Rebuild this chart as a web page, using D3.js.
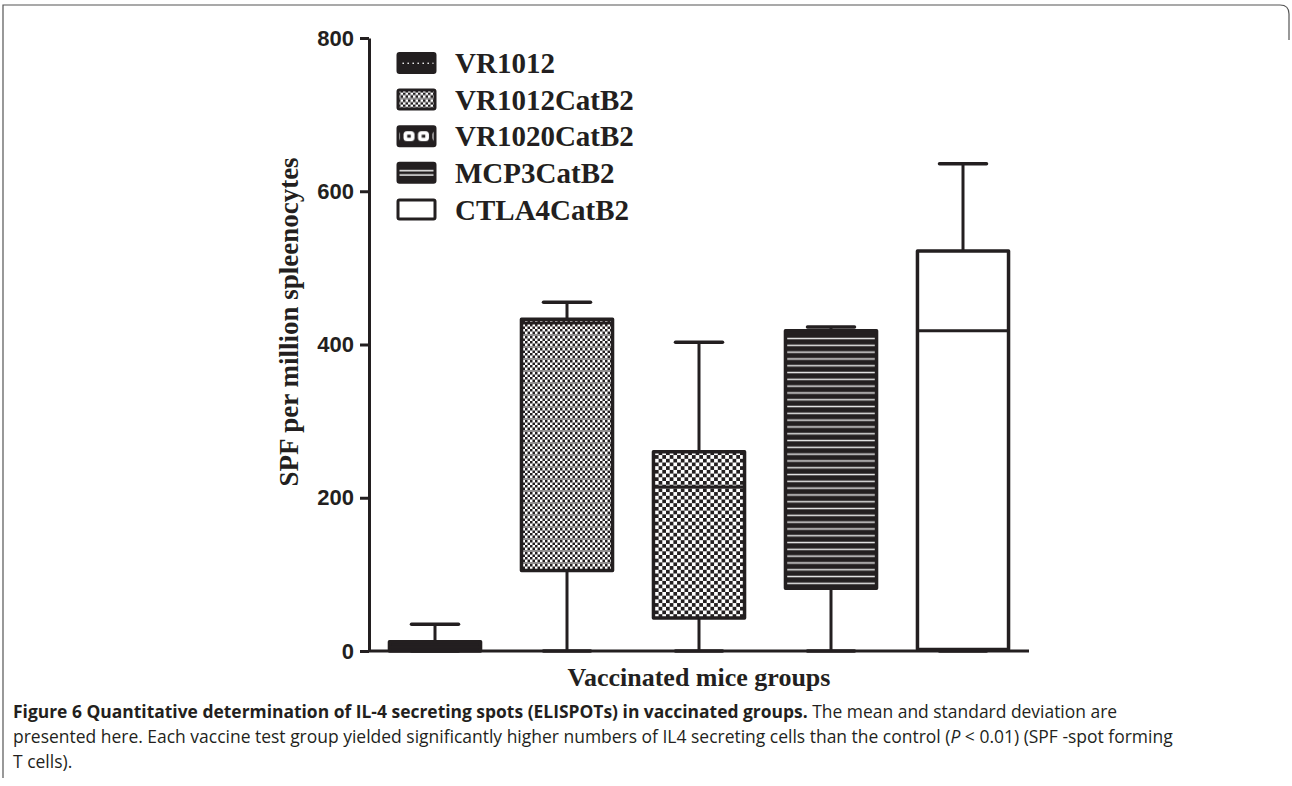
<!DOCTYPE html>
<html>
<head>
<meta charset="utf-8">
<script src="https://cdn.jsdelivr.net/npm/d3@7"></script>
<style>
  body { margin: 0; background: #fff; }
  svg { display: block; }
</style>
</head>
<body>
<div id="chart"></div>
<script>
const width = 1292, height = 786;
const margin = { top: 38, right: 263, bottom: 135, left: 369 };

// box plot values
const groups = ["VR1012", "VR1012CatB2", "VR1020CatB2", "MCP3CatB2", "CTLA4CatB2"];
const minVals = [0, 0, 0, 0, 0];
const q1Vals = [0, 105, 43, 82, 2];
const medVals = [5, 428, 214, 415, 418];
const q3Vals = [12, 433, 260, 418, 522];
const maxVals = [35, 455, 403, 423, 636];
const yTicks = [0, 200, 400, 600, 800];
const patternIds = ["pVR1012", "pVR1012CatB2", "pVR1020CatB2", "pMCP3", "pCTLA4"];

const ink = "#231f20";

const svg = d3.select("#chart").append("svg").attr("width", width).attr("height", height);
const defs = svg.append("defs");

// patterns
let p = defs.append("pattern").attr("id", "pVR1012").attr("patternUnits", "userSpaceOnUse").attr("width", 6).attr("height", 6);
p.append("rect").attr("width", 6).attr("height", 6).attr("fill", ink);

p = defs.append("pattern").attr("id", "pVR1012CatB2").attr("patternUnits", "userSpaceOnUse").attr("width", 5).attr("height", 12);
p.append("rect").attr("width", 5).attr("height", 12).attr("fill", "#fff");
[[0, 0], [2.5, 2.5], [0, 5], [2.5, 7.5]].forEach(([x, y]) => {
    p.append("rect").attr("x", x).attr("y", y).attr("width", 2.5).attr("height", 2.5).attr("fill", ink);
});
p.append("rect").attr("x", 0).attr("y", 10.5).attr("width", 5).attr("height", 1).attr("fill", ink);

p = defs.append("pattern").attr("id", "pVR1020CatB2").attr("patternUnits", "userSpaceOnUse").attr("width", 7.4).attr("height", 7.4);
p.append("rect").attr("width", 7.4).attr("height", 7.4).attr("fill", "#fff");
p.append("rect").attr("x", 0).attr("y", 0).attr("width", 3.7).attr("height", 3.7).attr("fill", ink);
p.append("rect").attr("x", 3.7).attr("y", 3.7).attr("width", 3.7).attr("height", 3.7).attr("fill", ink);

p = defs.append("pattern").attr("id", "pMCP3").attr("patternUnits", "userSpaceOnUse").attr("width", 10).attr("height", 6.8);
p.append("rect").attr("width", 10).attr("height", 6.8).attr("fill", ink);
p.append("rect").attr("x", 0).attr("y", 4.6).attr("width", 10).attr("height", 1.5).attr("fill", "#e6e6e6");

// legend swatch patterns (tile centred on the row)
p = defs.append("pattern").attr("id", "lVR1012").attr("patternUnits", "userSpaceOnUse")
    .attr("x", 3).attr("y", -15).attr("width", 5).attr("height", 30);
p.append("rect").attr("width", 5).attr("height", 30).attr("fill", ink);
p.append("rect").attr("x", 1.5).attr("y", 14.6).attr("width", 1.4).attr("height", 1.4).attr("fill", "#fff");

p = defs.append("pattern").attr("id", "lVR1020CatB2").attr("patternUnits", "userSpaceOnUse")
    .attr("x", 4).attr("y", -15).attr("width", 14.5).attr("height", 30);
p.append("rect").attr("width", 14.5).attr("height", 30).attr("fill", ink);
p.append("rect").attr("x", 1.5).attr("y", 10).attr("width", 11).attr("height", 10).attr("rx", 3.5).attr("fill", "#fff");
p.append("rect").attr("x", 5.2).attr("y", 13.5).attr("width", 3.6).attr("height", 3).attr("fill", ink);

p = defs.append("pattern").attr("id", "lMCP3").attr("patternUnits", "userSpaceOnUse")
    .attr("y", -15).attr("width", 10).attr("height", 30);
p.append("rect").attr("width", 10).attr("height", 30).attr("fill", ink);
p.append("rect").attr("x", 0).attr("y", 12).attr("width", 10).attr("height", 1.6).attr("fill", "#e6e6e6");
p.append("rect").attr("x", 0).attr("y", 16.4).attr("width", 10).attr("height", 1.6).attr("fill", "#e6e6e6");

// frame of the figure
svg.append("path")
    .attr("d", "M3,778 L3,5 L1280,5 Q1289,5 1289,14 L1289,40")
    .attr("fill", "none").attr("stroke", "#555").attr("stroke-width", 1.2);

const x = d3.scaleBand().domain(groups)
    .range([margin.left, width - margin.right])
    .paddingInner(0.31).paddingOuter(0.155);
const y = d3.scaleLinear().domain([0, 800]).range([height - margin.bottom, margin.top]);
const y0 = y(0);

// axes
const yAxis = svg.append("g")
    .attr("transform", `translate(${margin.left},0)`)
    .call(d3.axisLeft(y).tickValues(yTicks).tickSize(9).tickSizeOuter(0).tickPadding(6));
yAxis.select(".domain").attr("stroke", ink).attr("stroke-width", 3);
yAxis.selectAll(".tick line").attr("stroke", ink).attr("stroke-width", 3);
yAxis.selectAll(".tick text")
    .attr("fill", ink)
    .style("font-family", "'Liberation Sans', Arial, sans-serif")
    .style("font-weight", "bold")
    .style("font-size", "22px");

svg.append("line")
    .attr("x1", margin.left).attr("x2", width - margin.right)
    .attr("y1", y0).attr("y2", y0)
    .attr("stroke", ink).attr("stroke-width", 3);

// box plots
const boxData = groups.map((g, i) => ({
    g, i, min: minVals[i], q1: q1Vals[i], med: medVals[i], q3: q3Vals[i], max: maxVals[i]
}));

const capW = 47;
const bx = svg.append("g");
boxData.forEach(d => {
    const cx = x(d.g) + x.bandwidth() / 2;
    // whiskers
    bx.append("line").attr("x1", cx).attr("x2", cx).attr("y1", y(d.max)).attr("y2", y(d.q3))
        .attr("stroke", ink).attr("stroke-width", 3);
    bx.append("line").attr("x1", cx).attr("x2", cx).attr("y1", y(d.q1)).attr("y2", y(d.min))
        .attr("stroke", ink).attr("stroke-width", 3);
    bx.append("line").attr("x1", cx - capW / 2).attr("x2", cx + capW / 2).attr("y1", y(d.max)).attr("y2", y(d.max))
        .attr("stroke", ink).attr("stroke-width", 3.5).attr("stroke-linecap", "round");
    bx.append("line").attr("x1", cx - capW / 2).attr("x2", cx + capW / 2).attr("y1", y(d.min)).attr("y2", y(d.min))
        .attr("stroke", ink).attr("stroke-width", 3.5).attr("stroke-linecap", "round");
    // box
    bx.append("rect")
        .attr("x", x(d.g)).attr("y", y(d.q3))
        .attr("width", x.bandwidth()).attr("height", Math.max(0, y(d.q1) - y(d.q3)))
        .attr("fill", d.i === 4 ? "#fff" : `url(#${patternIds[d.i]})`)
        .attr("stroke", ink).attr("stroke-width", 3.5).attr("stroke-linejoin", "round");
    // median
    bx.append("line").attr("x1", x(d.g)).attr("x2", x(d.g) + x.bandwidth())
        .attr("y1", y(d.med)).attr("y2", y(d.med))
        .attr("stroke", ink).attr("stroke-width", 3);
});

// legend
const legendFills = ["url(#lVR1012)", "url(#pVR1012CatB2)", "url(#lVR1020CatB2)", "url(#lMCP3)", "#fff"];
const legend = svg.append("g").attr("transform", "translate(398,63)");
groups.forEach((g, i) => {
    const row = legend.append("g").attr("transform", `translate(0,${i * 36.6})`);
    row.append("rect").attr("x", 0).attr("y", -9.5).attr("width", 37).attr("height", 19)
        .attr("rx", 1.5)
        .attr("fill", legendFills[i])
        .attr("stroke", ink).attr("stroke-width", 3);
    row.append("text").attr("x", 57).attr("y", 0).attr("dy", "0.35em")
        .attr("fill", ink)
        .style("font-family", "'Liberation Serif', 'Times New Roman', serif")
        .style("font-weight", "bold")
        .style("font-size", "29px")
        .text(g);
});

// axis titles
svg.append("text")
    .attr("transform", `translate(298,322) rotate(-90)`)
    .attr("text-anchor", "middle")
    .attr("fill", ink)
    .style("font-family", "'Liberation Serif', 'Times New Roman', serif")
    .style("font-weight", "bold")
    .style("font-size", "27px")
    .text("SPF per million spleenocytes");

svg.append("text")
    .attr("x", 699).attr("y", 686)
    .attr("text-anchor", "middle")
    .attr("fill", ink)
    .style("font-family", "'Liberation Serif', 'Times New Roman', serif")
    .style("font-weight", "bold")
    .style("font-size", "26px")
    .text("Vaccinated mice groups");

// caption: font size is fitted so each line ends where it does in the figure
const capFont = "'Open Sans', 'Noto Sans', sans-serif";
function fitLine(t, target) {
    const len = t.node().getComputedTextLength();
    t.style("font-size", (18 * target / len) + "px");
}

const c1 = svg.append("text").attr("x", 13).attr("y", 718)
    .attr("fill", ink).style("font-family", capFont).style("font-size", "18px");
c1.append("tspan").style("font-weight", "bold")
    .text("Figure 6 Quantitative determination of IL-4 secreting spots (ELISPOTs) in vaccinated groups.");
c1.append("tspan").text(" The mean and standard deviation are");
fitLine(c1, 1105);

const c2 = svg.append("text").attr("x", 13).attr("y", 743)
    .attr("fill", ink).style("font-family", capFont).style("font-size", "18px");
c2.append("tspan").text("presented here. Each vaccine test group yielded significantly higher numbers of IL4 secreting cells than the control (");
c2.append("tspan").style("font-style", "italic").text("P");
c2.append("tspan").text(" < 0.01) (SPF -spot forming");
fitLine(c2, 1160);

svg.append("text").attr("x", 13).attr("y", 768)
    .attr("fill", ink).style("font-family", capFont)
    .style("font-size", c2.style("font-size"))
    .text("T cells).");
</script>
</body>
</html>
